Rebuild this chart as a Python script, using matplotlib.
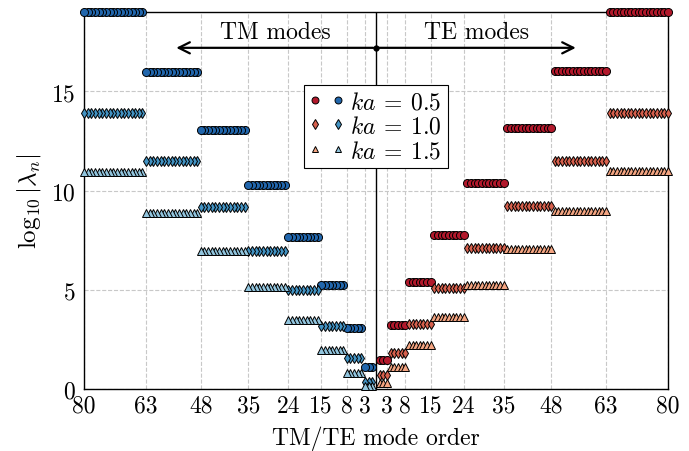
import numpy as np
import matplotlib
matplotlib.use("Agg")
import matplotlib.pyplot as plt
from matplotlib.lines import Line2D
from matplotlib.legend_handler import HandlerTuple

plt.rcParams["font.family"] = "serif"
plt.rcParams["font.serif"] = ["cmr10", "DejaVu Serif"]
plt.rcParams["mathtext.fontset"] = "cm"
plt.rcParams["axes.formatter.use_mathtext"] = True

# mode order n = 1..8, each with 2n+1 modes
orders = [1, 2, 3, 4, 5, 6, 7, 8]

# log10 |lambda_n| per mode order
tm_05 = [1.10, 3.08, 5.25, 7.69, 10.30, 13.05, 15.96, 19.0]
tm_10 = [0.35, 1.55, 3.17, 5.00, 6.98, 9.18, 11.48, 13.92]
tm_15 = [0.15, 0.81, 1.99, 3.50, 5.13, 6.97, 8.87, 10.94]
te_05 = [1.48, 3.23, 5.40, 7.78, 10.40, 13.17, 16.05, 19.0]
te_10 = [0.70, 1.82, 3.28, 5.10, 7.12, 9.24, 11.52, 13.94]
te_15 = [0.33, 1.11, 2.22, 3.64, 5.25, 7.07, 8.98, 10.97]

tick_pos = [-80, -63, -48, -35, -24, -15, -8, -3, 3, 8, 15, 24, 35, 48, 63, 80]
tick_lab = [str(abs(t)) for t in tick_pos]

counts = [2 * n + 1 for n in orders]
idx = np.arange(1, sum(counts) + 1)

def expand(vals):
    return np.repeat(vals, counts)

blues = {"0.5": "#2166ac", "1.0": "#4393c3", "1.5": "#92c5de"}
reds = {"0.5": "#b2182b", "1.0": "#d6604d", "1.5": "#f4a582"}
marks = {"0.5": ("o", 5.8), "1.0": ("d", 5.6), "1.5": ("^", 5.6)}

fig = plt.figure(figsize=(6.89, 4.52), dpi=100)
ax = fig.add_axes([0.122, 0.137, 0.8475, 0.834])

series = [("0.5", tm_05, te_05), ("1.0", tm_10, te_10), ("1.5", tm_15, te_15)]
for ka, tm, te in series:
    m, ms = marks[ka]
    ax.plot(-idx, expand(tm), ls="none", marker=m, ms=ms, mfc=blues[ka],
            mec="black", mew=0.7, clip_on=False, zorder=3)
    ax.plot(idx, expand(te), ls="none", marker=m, ms=ms, mfc=reds[ka],
            mec="black", mew=0.7, clip_on=False, zorder=3)

ax.axvline(0, color="black", lw=1, zorder=2)

# TM / TE arrows
ya = 17.2
ax.annotate("", xy=(-55.5, ya), xytext=(0, ya),
            arrowprops=dict(arrowstyle="->", lw=1.6, color="black", mutation_scale=20))
ax.annotate("", xy=(55.5, ya), xytext=(0, ya),
            arrowprops=dict(arrowstyle="->", lw=1.6, color="black", mutation_scale=20))
ax.plot(0, ya, "o", color="black", ms=3.5, zorder=4)
ax.text(-27.5, 18.0, "TM modes", ha="center", va="center", fontsize=17)
ax.text(27.5, 18.0, "TE modes", ha="center", va="center", fontsize=17)

ax.set_xlim(-80, 80)
ax.set_ylim(0, 19)
ax.set_xticks(tick_pos)
ax.set_xticklabels(tick_lab)
ax.set_yticks([0, 5, 10, 15])
ax.tick_params(labelsize=17, length=0)
ax.tick_params(axis="x", pad=4)
ax.tick_params(axis="y", pad=6)
ax.grid(True, ls="--", color="#c8c8c8", lw=0.8)
ax.set_axisbelow(True)
for s in ax.spines.values():
    s.set_linewidth(1)

ax.set_xlabel("TM/TE mode order", fontsize=17, labelpad=6)
ax.set_ylabel(r"$\log_{10}|\lambda_n|$", fontsize=18, labelpad=6)

handles = []
labels = []
for ka, tm, te in series:
    m, ms = marks[ka]
    hr = Line2D([], [], ls="none", marker=m, ms=5, mfc=reds[ka], mec="black", mew=0.7)
    hb = Line2D([], [], ls="none", marker=m, ms=5, mfc=blues[ka], mec="black", mew=0.7)
    handles.append((hr, hb))
    labels.append(r"$ka \:=\: %s$" % ka)

leg = ax.legend(handles, labels, handler_map={tuple: HandlerTuple(ndivide=None, pad=0.6)},
                loc="upper center", bbox_to_anchor=(0.5, 0.806), borderaxespad=0,
                fontsize=17, fancybox=False, framealpha=1, edgecolor="black",
                handlelength=1.4, handletextpad=0.3, borderpad=0.25, labelspacing=0.1)
leg.get_frame().set_linewidth(0.8)

fig.savefig("out.png", dpi=100)
